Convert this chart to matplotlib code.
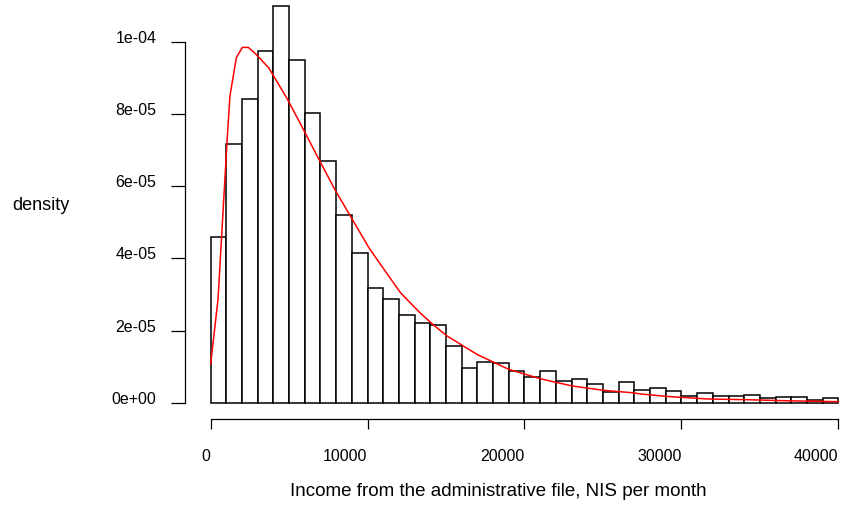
import matplotlib
matplotlib.use('Agg')
from matplotlib import pyplot as plt

plt.rcParams['font.family'] = ['Liberation Sans', 'DejaVu Sans']

# histogram: left edge of each 1000-NIS bin and its density
bin_left = [0, 1000, 2000, 3000, 4000, 5000, 6000, 7000, 8000, 9000,
            10000, 11000, 12000, 13000, 14000, 15000, 16000, 17000, 18000, 19000,
            20000, 21000, 22000, 23000, 24000, 25000, 26000, 27000, 28000, 29000,
            30000, 31000, 32000, 33000, 34000, 35000, 36000, 37000, 38000, 39000]
bin_width = 1000
density = [4.58e-5, 7.18e-5, 8.40e-5, 9.75e-5, 1.098e-4, 9.49e-5, 8.03e-5, 6.69e-5, 5.20e-5, 4.14e-5,
           3.19e-5, 2.88e-5, 2.44e-5, 2.20e-5, 2.16e-5, 1.59e-5, 9.8e-6, 1.13e-5, 1.12e-5, 8.9e-6,
           7.1e-6, 8.9e-6, 6.1e-6, 6.7e-6, 5.2e-6, 3.0e-6, 5.8e-6, 3.5e-6, 4.1e-6, 3.2e-6,
           1.9e-6, 2.9e-6, 1.9e-6, 1.9e-6, 2.1e-6, 1.4e-6, 1.6e-6, 1.6e-6, 8e-7, 1.4e-6]

# fitted density curve (red)
curve_x = [0, 470, 1040, 1230, 1640, 2020, 2400, 2870, 3710, 4890, 5730, 7010, 7960, 9030,
           10080, 11040, 12100, 13330, 14220, 15080, 16990, 19000, 21020, 23040, 25050,
           26960, 27400, 29120, 31690, 34270, 36840, 40000]
curve_y = [1.08e-5, 2.87e-5, 7.2e-5, 8.5e-5, 9.56e-5, 9.84e-5, 9.84e-5, 9.66e-5, 9.27e-5, 8.41e-5,
           7.72e-5, 6.65e-5, 5.87e-5, 5.08e-5, 4.3e-5, 3.7e-5, 3.05e-5, 2.5e-5, 2.15e-5, 1.85e-5,
           1.34e-5, 9.3e-6, 6.7e-6, 4.7e-6, 3.5e-6, 2.8e-6, 2.5e-6, 1.8e-6, 1.1e-6, 9e-7, 6e-7, 3.6e-7]

x_ticks = [0, 10000, 20000, 30000, 40000]
y_ticks = [0, 2e-5, 4e-5, 6e-5, 8e-5, 1e-4]
y_tick_labels = ['0e+00', '2e-05', '4e-05', '6e-05', '8e-05', '1e-04']

W, H = 852, 506
fig = plt.figure(figsize=(W / 100, H / 100), dpi=100)
ax = fig.add_axes([184.6 / W, (H - 419.7) / H, 1 - 184.6 / W, 419.7 / H])

ax.bar(bin_left, density, width=bin_width, align='edge',
       facecolor='white', edgecolor='black', linewidth=1.1)
ax.plot(curve_x, curve_y, color='red', linewidth=1.1)

ax.set_xlim(-1660, 40870)
ax.set_ylim(-4.35e-6, 1.118e-4)

for side in ['top', 'right']:
    ax.spines[side].set_visible(False)
ax.spines['left'].set_bounds(0, 1e-4)
ax.spines['bottom'].set_bounds(0, 40000)
ax.spines['left'].set_linewidth(0.9)
ax.spines['bottom'].set_linewidth(0.9)

ax.set_xticks(x_ticks)
ax.set_xticklabels([str(t) for t in x_ticks])
ax.set_yticks(y_ticks)
ax.set_yticklabels(y_tick_labels)
ax.tick_params(axis='x', length=7.2, width=0.9, pad=14, labelsize=11.5)
ax.tick_params(axis='y', length=9.9, width=0.9, pad=10.5, labelsize=11.5)
for lab in ax.get_xticklabels():
    lab.set_ha('right')
for lab in ax.get_yticklabels():
    lab.set_va('baseline')

fig.text(12 / W, 1 - 205 / H, 'density', ha='left', va='center', fontsize=13)
fig.text(498 / W, 1 - 492 / H, 'Income from the administrative file, NIS per month',
         ha='center', va='center', fontsize=13.5)

fig.savefig('out.png', dpi=100)
